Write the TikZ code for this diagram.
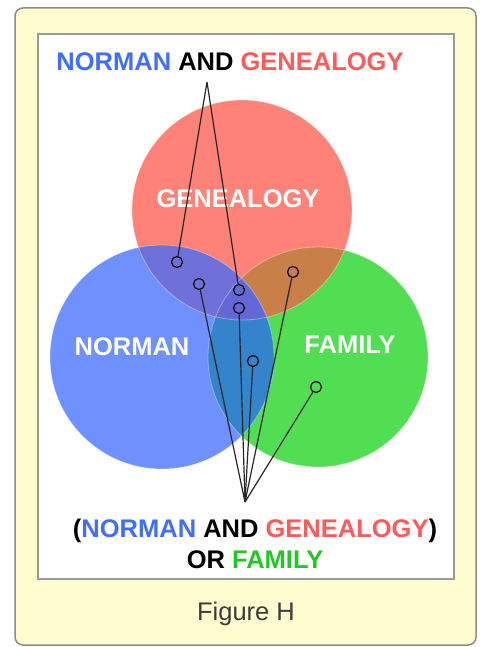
\documentclass[tikz,border=0pt]{standalone}
\usepackage{fontspec}
\setmainfont{Liberation Sans}
\usetikzlibrary{positioning}
\definecolor{panel}{HTML}{FFFDD0}
\definecolor{panelline}{HTML}{8C8C8C}
\definecolor{boxline}{HTML}{9A9A9A}
\definecolor{gen}{HTML}{FF8278}
\definecolor{nor}{HTML}{6E91FF}
\definecolor{fam}{HTML}{52DE52}
\definecolor{gennor}{HTML}{7070DA}
\definecolor{genfam}{HTML}{C88048}
\definecolor{norfam}{HTML}{3484CC}
\definecolor{allthree}{HTML}{6468D6}
\definecolor{gentext}{HTML}{FF5A5A}
\definecolor{nortext}{HTML}{3F6EFF}
\definecolor{famtext}{HTML}{22C822}
\definecolor{captext}{HTML}{3C3C3C}

\begin{document}
\begin{tikzpicture}[x=1pt,y=-1pt,
  lbl/.style={font=\fontsize{25.5}{30}\selectfont\bfseries,inner sep=0pt,anchor=base},
  inlbl/.style={lbl,text=white},
  ring/.style={circle,draw=black,line width=1.2pt,minimum size=11pt,inner sep=0pt},
  pointer/.style={draw=black!85,line width=1.2pt}]
\useasboundingbox (0,0) rectangle (481,647);
% frame
\draw[panelline,fill=panel,line width=1.5pt,rounded corners=8pt] (15,8) rectangle (476,645);
\draw[boxline,fill=white,line width=2pt] (38,34) rectangle (454,579);
% circles
\fill[fam] (318,357) circle (110);
\fill[nor] (162,357) circle (112);
\fill[gen] (242,210) circle (110);
\begin{scope}
\clip (242,210) circle (110);
\fill[gennor] (162,357) circle (112);
\fill[genfam] (318,357) circle (110);
\end{scope}
\begin{scope}
\clip (162,357) circle (112);
\fill[norfam] (318,357) circle (110);
\end{scope}
\begin{scope}
\clip (242,210) circle (110);
\clip (162,357) circle (112);
\fill[allthree] (318,357) circle (110);
\end{scope}
\draw[white,opacity=0.35,line width=0.8pt] (242,210) circle (110) (162,357) circle (112) (318,357) circle (110);
% labels
\node[lbl] (query) at (230,71) {{\color{nortext}NORMAN} AND {\color{gentext}GENEALOGY}};
\node[inlbl] (genlbl) at (238,207) {GENEALOGY};
\node[inlbl] (norlbl) at (132,355) {NORMAN};
\node[inlbl] (famlbl) at (350,353) {FAMILY};
\node[lbl] (result) at (255,537) {({\color{nortext}NORMAN} AND {\color{gentext}GENEALOGY})};
\node[lbl] (orfam) at (255,568) {OR {\color{famtext}FAMILY}};
\node[lbl,font=\fontsize{25.5}{30}\selectfont,text=captext] (caption) at (246,620) {Figure H};
% pointers
\coordinate (topfork) at (207,82);
\coordinate (botfork) at (245,502);
\node[ring] (r1) at (177,262) {};
\node[ring] (r2) at (199,284) {};
\node[ring] (r3) at (239,290) {};
\node[ring] (r4) at (239,308) {};
\node[ring] (r5) at (293,272) {};
\node[ring] (r6) at (253,361) {};
\node[ring] (r7) at (316,387) {};
\draw[pointer] (topfork) -- (r1) (topfork) -- (r3);
\foreach \r in {r2,r4,r5,r6,r7}
  \draw[pointer] (botfork) -- (\r);
\end{tikzpicture}
\end{document}
